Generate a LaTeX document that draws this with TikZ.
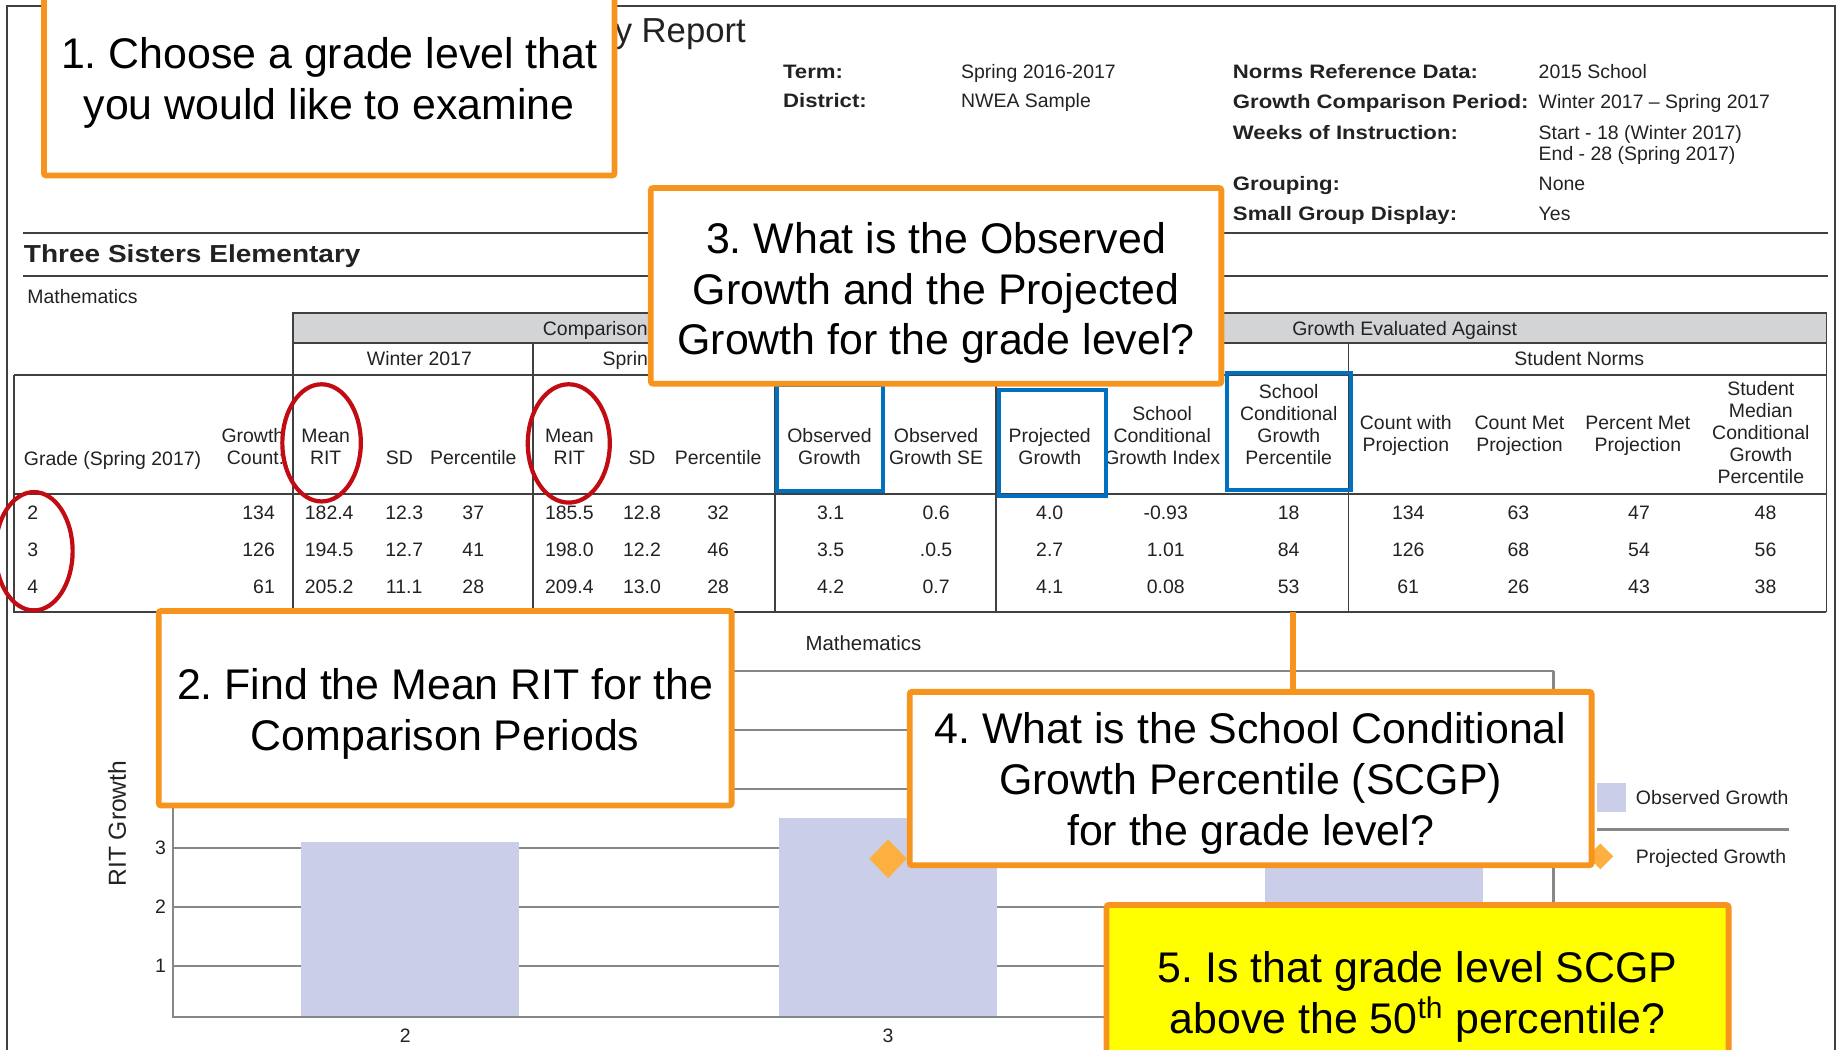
\documentclass[tikz,border=0pt]{standalone}
\usepackage{fontspec}
\setmainfont{Liberation Sans}
\newfontfamily\widesans[FakeStretch=1.14]{Liberation Sans}
\definecolor{calloutorange}{RGB}{247,148,30}
\definecolor{ringred}{RGB}{192,12,18}
\definecolor{boxblue}{RGB}{0,112,192}
\definecolor{bandgray}{RGB}{211,212,214}
\definecolor{rulegray}{RGB}{64,64,64}
\definecolor{gridgray}{RGB}{135,135,135}
\definecolor{barblue}{RGB}{202,206,232}
\definecolor{diamondorange}{RGB}{251,176,64}
\definecolor{reporttext}{RGB}{34,34,34}
\definecolor{noteyellow}{RGB}{255,255,0}
\newcommand\capgap[1]{\rule{0pt}{#1}}
\frenchspacing

\begin{document}
\begin{tikzpicture}[x=0.5pt,y=0.5pt,yscale=-1,xscale=1,
  txt/.style={font=\fontsize{8.3}{9.4}\selectfont, text=reporttext, inner sep=0pt},
  lbl/.style={txt, font=\fontsize{8.3}{9.4}\widesans\bfseries},
  hd/.style={txt, align=center, anchor=south},
  rule/.style={draw=rulegray, line width=0.8pt},
  gridline/.style={draw=gridgray, line width=0.9pt},
  hoop/.style={draw=ringred, line width=1.8pt},
  bluebox/.style={draw=boxblue, line width=1.7pt},
  callout/.style={draw=calloutorange, line width=2.5pt, fill=white, rounded corners=1pt,
    align=center, inner sep=0pt, font=\fontsize{18.3}{21.75}\selectfont},
  link/.style={draw=calloutorange, line width=2.5pt}]
\clip (0,0) rectangle (1568,896);

% report frame and heading
\draw[draw=rulegray, line width=0.7pt] (6,896) -- (6,5) -- (1566,5) -- (1566,896);
\node[txt, anchor=base east, font=\fontsize{14.8}{17}\selectfont] (title) at (637,36) {y Report};
\foreach \px/\py/\vx/\l/\v [count=\k] in {668/67/820/Term:/Spring 2016-2017, 668/92/820/District:/NWEA Sample,
    1052/67/1313/Norms Reference Data:/2015 School, 1052/93/1313/Growth Comparison Period:/Winter 2017 -- Spring 2017,
    1052/119/1313/Weeks of Instruction:/Start - 18 (Winter 2017), 1052/163/1313/Grouping:/None,
    1052/188/1313/Small Group Display:/Yes}
  {\node[lbl, anchor=base west] (key\k) at (\px,\py) {\l};
   \node[txt, anchor=base west] (val\k) at (\vx,\py) {\v};}
\node[txt, anchor=base west] (weeksend) at (1313,137) {End - 28 (Spring 2017)};
\draw[rule] (20,199) -- (1560,199);
\draw[rule] (20,235.6) -- (1560,235.6);
\node[txt, anchor=base west, font=\fontsize{10.5}{12}\widesans\bfseries] (school) at (20,224) {Three Sisters Elementary};
\node[txt, anchor=base west] (subject) at (23,259) {Mathematics};

% table
\fill[bandgray] (250,267.5) rectangle (1559,292.5);
\draw[rule] (250,522) -- (250,267.5) -- (1559,267.5) -- (1559,522);
\draw[rule] (250,292.5) -- (1559,292.5);
\draw[rule] (12,320) -- (1559,320);
\draw[rule] (12,421.6) -- (1559,421.6);
\draw[rule] (12,320) -- (12,522) -- (1559,522);
\foreach \px/\top in {455/292.5, 661.5/292.5, 850/320, 1151/292.5}
  \draw[rule] (\px,\top) -- (\px,522);
\node[txt, anchor=base west] (band1) at (463,286) {Comparison};
\node[txt, anchor=base] (band2) at (1199,286) {Growth Evaluated Against};
\node[txt, anchor=base] (winter) at (358,312) {Winter 2017};
\node[txt, anchor=base west] (spring) at (514,312) {Sprin};
\node[txt, anchor=base] (norms) at (1348,312) {Student Norms};

\node[txt, anchor=base west] (hgrade) at (20,397) {Grade (Spring 2017)};
\node[hd, align=right, anchor=south east] (hcount) at (243,397) {Growth\\Count:};
\foreach \px/\py/\t [count=\k] in {278/397/{Mean\\RIT}, 341/397/SD, 404/397/Percentile, 486/397/{Mean\\RIT},
    548/397/SD, 613/397/Percentile, 708/397/{Observed\\Growth}, 799/397/{Observed\\Growth SE},
    896/397/{Projected\\Growth}, 992/397/{School\\Conditional\\Growth Index},
    1100/397/{School\\Conditional\\Growth\\Percentile}, 1200/389.5/{Count with\\Projection},
    1297/389.5/{Count Met\\Projection}, 1398/389.5/{Percent Met\\Projection},
    1503/413/{Student\\Median\\Conditional\\Growth\\Percentile}}
  \node[hd] (h\k) at (\px,\py) {\t};

\foreach \px/\va/\vb/\vc [count=\k] in {28/2/3/4, 281/182.4/194.5/205.2, 345/12.3/12.7/11.1, 404/37/41/28,
    486/185.5/198.0/209.4, 548/12.8/12.2/13.0, 613/32/46/28, 709/3.1/3.5/4.2, 799/0.6/.0.5/0.7,
    896/4.0/2.7/4.1, 995/-0.93/1.01/0.08, 1100/18/84/53, 1202/134/126/61, 1296/63/68/26,
    1399/47/54/43, 1507/48/56/38}
  {\node[txt, anchor=base] (r1c\k) at (\px,443) {\va};
   \node[txt, anchor=base] (r2c\k) at (\px,475) {\vb};
   \node[txt, anchor=base] (r3c\k) at (\px,507) {\vc};}
\node[txt, anchor=base east] (cnt1) at (235,443) {134};
\node[txt, anchor=base east] (cnt2) at (235,475) {126};
\node[txt, anchor=base east] (cnt3) at (235,507) {61};

% red rings and blue frames
\draw[hoop] (274.5,378) ellipse [x radius=33.5, y radius=50];
\draw[hoop] (485.5,378.5) ellipse [x radius=35, y radius=50.5];
\draw[hoop] (29,470.5) ellipse [x radius=33, y radius=50.5];
\draw[bluebox] (663,329) rectangle (754,419);
\draw[bluebox] (853,333) rectangle (944,423);
\draw[bluebox] (1047,318) rectangle (1153,418);

% chart
\node[txt, anchor=base, font=\fontsize{8.7}{10}\selectfont] (charttitle) at (737,555) {Mathematics};
\foreach \k in {1,...,6}
  \draw[gridline] (148,{874.5-50.3*\k}) -- (1326,{874.5-50.3*\k});
\draw[gridline] (148,572.7) -- (148,868) -- (1326,868) -- (1326,572.7);
\foreach \xa/\v in {257/3.1, 665/3.5, 1080/4.2}
  \fill[barblue] (\xa,867) rectangle ({\xa+186},{874.5-50.3*\v});
\foreach \xc/\yc in {349.5/673, 758/733, 1173/668}
  \fill[diamondorange] (\xc-16,\yc) -- (\xc,\yc-16.5) -- (\xc+16,\yc) -- (\xc,\yc+16.5) -- cycle;
\foreach \yc/\t [count=\k] in {723.5/3, 774/2, 824/1}
  \node[txt] (tick\k) at (137,\yc) {\t};
\node[txt] (xlab2) at (346,884) {2};
\node[txt] (xlab3) at (758,884) {3};
\node[txt, rotate=90, font=\fontsize{10.5}{12}\selectfont] (yaxis) at (100,703) {RIT Growth};
\fill[barblue] (1363,668) rectangle (1388,693);
\draw[gridline] (1363,708) -- (1527,708);
\fill[diamondorange] (1355,731) -- (1366,720) -- (1377,731) -- (1366,742) -- cycle;
\node[txt, anchor=base west] (leg1) at (1396,687) {Observed Growth};
\node[txt, anchor=base west] (leg2) at (1396,737) {Projected Growth};

% callouts
\node[callout, minimum width=243.5pt, minimum height=81.75pt] (q1) at (281,68)
  {\capgap{16.3pt}1. Choose a grade level that\\you would like to examine};
\node[callout, minimum width=243.5pt, minimum height=83.5pt] (q3) at (799,244)
  {\capgap{19.3pt}3. What is the Observed\\Growth and the Projected\\Growth for the grade level?};
\node[callout, minimum width=244.5pt, minimum height=83pt] (q2) at (380,604.5)
  {\capgap{18.3pt}2. Find the Mean RIT for the\\Comparison Periods};
\coordinate (scgpfoot) at (1104,522);
\node[callout, minimum width=291pt, minimum height=74pt] (q4) at (1067.5,664.5)
  {\capgap{17.3pt}4. What is the School Conditional\\Growth Percentile (SCGP)\\for the grade level?};
\draw[link] (scgpfoot) -- (scgpfoot |- q4.north);
\node[callout, fill=noteyellow, minimum width=265.5pt, minimum height=76.5pt] (q5) at (1210,849)
  {\capgap{15.3pt}5. Is that grade level SCGP\\above the 50\textsuperscript{th} percentile?};
\end{tikzpicture}
\end{document}
